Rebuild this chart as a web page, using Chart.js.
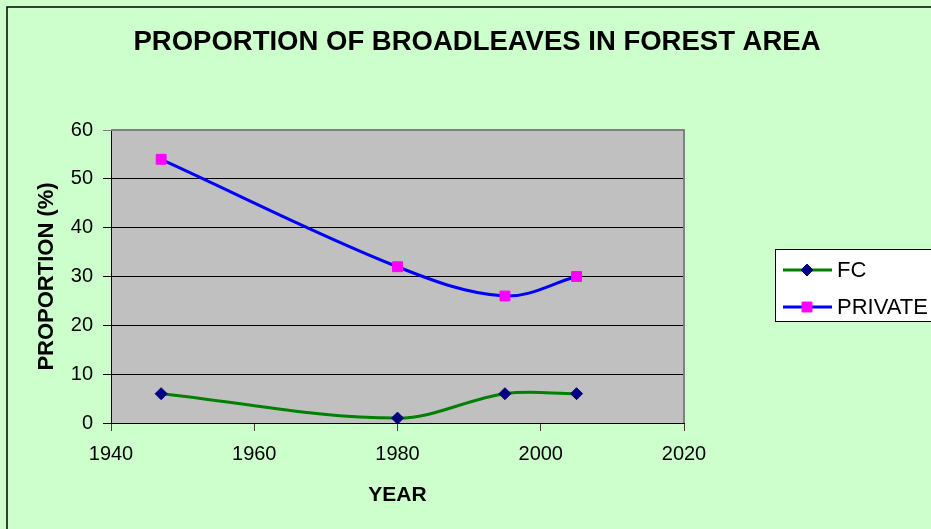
<!DOCTYPE html>
<html>
<head>
<meta charset="utf-8">
<title>Proportion of broadleaves in forest area</title>
<script src="https://cdn.jsdelivr.net/npm/chart.js@4/dist/chart.umd.min.js"></script>
<style>
  html, body { margin: 0; padding: 0; background: #CCFFCC; overflow: hidden; }
  canvas { display: block; }
</style>
</head>
<body>
<canvas id="chart" width="931" height="529"></canvas>
<script>
// data
const years = [1947, 1980, 1995, 2005];
const fcValues = [6, 1, 6, 6];
const privateValues = [54, 32, 26, 30];
const xTicks = [1940, 1960, 1980, 2000, 2020];
const yTicks = [0, 10, 20, 30, 40, 50, 60];

const FONT = "'Liberation Sans', Arial, sans-serif";

// page background, outer frame and grey plot area
const backdrop = {
  id: 'backdrop',
  beforeDraw(chart) {
    const { ctx, chartArea: a } = chart;
    ctx.save();
    ctx.fillStyle = '#CCFFCC';
    ctx.fillRect(0, 0, chart.width, chart.height);
    ctx.strokeStyle = '#000';
    ctx.lineWidth = 1.5;
    ctx.strokeRect(7, 7, chart.width + 20, chart.height + 20);
    ctx.fillStyle = '#C0C0C0';
    ctx.fillRect(a.left, a.top, a.right - a.left, a.bottom - a.top);
    ctx.restore();
  },
  beforeDatasetsDraw(chart) {
    const { ctx, chartArea: a } = chart;
    ctx.save();
    ctx.strokeStyle = '#808080';
    ctx.lineWidth = 2;
    ctx.beginPath();
    ctx.moveTo(a.left, a.top);
    ctx.lineTo(a.right, a.top);
    ctx.lineTo(a.right, a.bottom);
    ctx.stroke();
    ctx.restore();
  }
};

// boxed legend at the right, like the spreadsheet one
const boxLegend = {
  id: 'boxLegend',
  afterDraw(chart) {
    const { ctx } = chart;
    ctx.save();
    ctx.fillStyle = '#fff';
    ctx.fillRect(775.5, 249.5, 200, 72);
    ctx.strokeStyle = '#000';
    ctx.lineWidth = 1;
    ctx.strokeRect(775.5, 249.5, 200, 72);
    chart.data.datasets.forEach((ds, i) => {
      const y = 270 + i * 37;
      ctx.strokeStyle = ds.borderColor;
      ctx.lineWidth = 3;
      ctx.beginPath();
      ctx.moveTo(783, y);
      ctx.lineTo(832, y);
      ctx.stroke();
      ctx.fillStyle = ds.pointBackgroundColor;
      ctx.strokeStyle = ds.pointBorderColor;
      ctx.lineWidth = 1;
      Chart.helpers.drawPoint(ctx, { pointStyle: ds.pointStyle, radius: ds.pointRadius, borderWidth: 1 }, 807, y);
      ctx.fillStyle = '#000';
      ctx.font = '22px ' + FONT;
      ctx.textBaseline = 'middle';
      ctx.fillText(ds.label, 837, y + 1);
    });
    ctx.restore();
  }
};

new Chart(document.getElementById('chart'), {
  type: 'line',
  data: {
    datasets: [
      {
        label: 'FC',
        data: years.map((yr, i) => ({ x: yr, y: fcValues[i] })),
        borderColor: '#008000',
        borderWidth: 3,
        tension: 0.35,
        pointStyle: 'rectRot',
        pointRadius: 6,
        pointBackgroundColor: '#000080',
        pointBorderColor: '#000080',
        pointBorderWidth: 1
      },
      {
        label: 'PRIVATE',
        data: years.map((yr, i) => ({ x: yr, y: privateValues[i] })),
        borderColor: '#0000FF',
        borderWidth: 3,
        tension: 0.35,
        pointStyle: 'rect',
        pointRadius: 7,
        pointBackgroundColor: '#FF00FF',
        pointBorderColor: '#FF00FF',
        pointBorderWidth: 1
      }
    ]
  },
  options: {
    responsive: false,
    animation: false,
    devicePixelRatio: 1,
    layout: { padding: { left: 23, right: 0, top: 0, bottom: 0 } },
    plugins: {
      legend: { display: false },
      tooltip: { enabled: false },
      title: {
        display: true,
        text: 'PROPORTION OF BROADLEAVES IN FOREST AREA',
        color: '#000',
        font: { family: FONT, size: 27.5, weight: 'bold', lineHeight: 1.2 },
        padding: { top: 25.5, bottom: 71.5 }
      }
    },
    scales: {
      x: {
        type: 'linear',
        min: xTicks[0],
        max: xTicks[xTicks.length - 1],
        afterBuildTicks(scale) { scale.ticks = xTicks.map(v => ({ value: v })); },
        afterFit(scale) { scale.height = 106; },
        border: { display: true, color: '#000', width: 1 },
        grid: { drawOnChartArea: false, drawTicks: true, tickLength: 8, color: '#404040' },
        ticks: {
          color: '#000',
          padding: 11,
          font: { family: FONT, size: 20 },
          maxRotation: 0,
          callback: v => String(v)
        },
        title: {
          display: true,
          text: 'YEAR',
          color: '#000',
          font: { family: FONT, size: 21, weight: 'bold', lineHeight: 1.2 },
          padding: 21.4
        }
      },
      y: {
        min: yTicks[0],
        max: yTicks[yTicks.length - 1],
        afterBuildTicks(scale) { scale.ticks = yTicks.map(v => ({ value: v })); },
        afterFit(scale) { scale.width = 88; },
        border: { display: true, color: '#000', width: 1 },
        grid: {
          drawTicks: true,
          tickLength: 8,
          color: c => (c.tick && c.tick.value === 60 ? '#808080' : '#000'),
          lineWidth: 1
        },
        ticks: { color: '#000', padding: 10, font: { family: FONT, size: 20 }, callback: v => String(v) },
        title: {
          display: true,
          text: 'PROPORTION (%)',
          color: '#000',
          font: { family: FONT, size: 22, weight: 'bold', lineHeight: 1.2 },
          padding: 10.5
        }
      },
      spacer: {
        type: 'linear',
        position: 'right',
        display: true,
        afterFit(scale) { scale.width = 247; },
        grid: { display: false, drawTicks: false },
        border: { display: false },
        ticks: { display: false }
      }
    }
  },
  plugins: [backdrop, boxLegend]
});
</script>
</body>
</html>
